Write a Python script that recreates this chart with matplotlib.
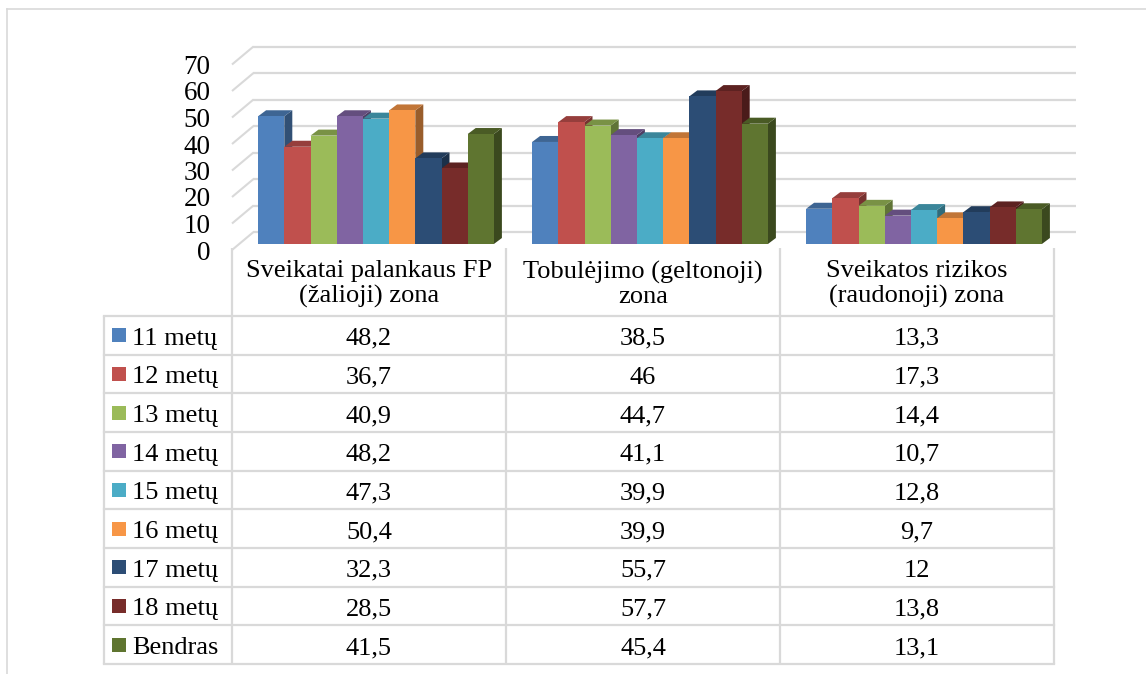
import matplotlib
matplotlib.use("Agg")
import matplotlib.pyplot as plt
from matplotlib.patches import Polygon, Rectangle
import matplotlib.colors as mcolors
import numpy as np

# ---- data -------------------------------------------------------------
zones = [
    "Sveikatai palankaus FP\n(žalioji) zona",
    "Tobulėjimo (geltonoji)\nzona",
    "Sveikatos rizikos\n(raudonoji) zona",
]
series = ["11 metų", "12 metų", "13 metų", "14 metų", "15 metų",
          "16 metų", "17 metų", "18 metų", "Bendras"]
age_11 = [48.2, 38.5, 13.3]
age_12 = [36.7, 46, 17.3]
age_13 = [40.9, 44.7, 14.4]
age_14 = [48.2, 41.1, 10.7]
age_15 = [47.3, 39.9, 12.8]
age_16 = [50.4, 39.9, 9.7]
age_17 = [32.3, 55.7, 12]
age_18 = [28.5, 57.7, 13.8]
overall = [41.5, 45.4, 13.1]
values = [age_11, age_12, age_13, age_14, age_15, age_16, age_17, age_18, overall]
colors = ["#4F81BD", "#C0504D", "#9BBB59", "#8064A2", "#4BACC6",
          "#F79646", "#2C4D75", "#772C2A", "#5F7530"]
y_ticks = [0, 10, 20, 30, 40, 50, 60, 70]

# ---- layout -----------------------------------------------------------
W, H = 1146, 674
FONT = "Liberation Serif"
FS = 19
GRID = "#d9d9d9"

fig = plt.figure(figsize=(W / 100, H / 100), dpi=100)


def px_rect(left, top, right, bottom):
    return [left / W, 1 - bottom / H, (right - left) / W, (bottom - top) / H]


def shade(c, f):
    r, g, b = mcolors.to_rgb(c)
    return (r * f, g * f, b * f)


# chart area: front plane of the pseudo-3D floor
ax_l, ax_r, ax_b = 232, 1054, 250
ymax = 70
px_per_y = 2.65
ax_t = ax_b - ymax * px_per_y
ax = fig.add_axes(px_rect(ax_l, ax_t, ax_r, ax_b))
ax.set_xlim(-0.5, len(zones) - 0.5)
ax.set_ylim(0, ymax)
ax.set_frame_on(False)
ax.set_xticks([])
ax.set_yticks(y_ticks)
ax.tick_params(axis="y", length=0, pad=15.5, labelsize=FS + 0.5)
for lab in ax.get_yticklabels():
    lab.set_fontfamily(FONT)

px_per_x = (ax_r - ax_l) / len(zones)
# depth of the floor, offset of the bar row, and bar thickness (data units)
DX, DY = 21.5 / px_per_x, 18 / px_per_y
FX, FY = 7 / px_per_x, 6 / px_per_y
BX, BY = 8 / px_per_x, 6 / px_per_y

# back wall gridlines with the short receding lines on the left
for v in y_ticks:
    ax.plot([-0.5, -0.5 + DX], [v, v + DY], color=GRID, lw=1.5,
            clip_on=False, zorder=0, solid_capstyle="butt")
    ax.plot([-0.5 + DX, len(zones) - 0.5 + DX], [v + DY, v + DY], color=GRID,
            lw=1.6, clip_on=False, zorder=0, solid_capstyle="butt")

# 3D-looking clustered bars
n = len(series)
bw = 26.2 / px_per_x
x_base = np.arange(len(zones))
for g in range(len(zones)):
    for s in range(n):
        h = values[s][g]
        x0 = x_base[g] - n * bw / 2 + s * bw + FX
        z = 2 + 3 * s
        side = Polygon([(x0 + bw, FY), (x0 + bw + BX, FY + BY),
                        (x0 + bw + BX, FY + h + BY), (x0 + bw, FY + h)],
                       closed=True, facecolor=shade(colors[s], 0.62),
                       edgecolor="none", clip_on=False, zorder=z)
        top = Polygon([(x0, FY + h), (x0 + bw, FY + h),
                       (x0 + bw + BX, FY + h + BY), (x0 + BX, FY + h + BY)],
                      closed=True, facecolor=shade(colors[s], 0.78),
                      edgecolor="none", clip_on=False, zorder=z + 1)
        ax.add_patch(side)
        ax.add_patch(top)
        ax.bar(x0, h, width=bw, bottom=FY, align="edge", color=colors[s],
               edgecolor="none", clip_on=False, zorder=z + 2)

# ---- data table and outer frame (drawn in pixel space) ----------------
ov = fig.add_axes([0, 0, 1, 1])
ov.set_xlim(0, W)
ov.set_ylim(H, 0)
ov.axis("off")
ov.patch.set_alpha(0)

# outer frame
ov.plot([7, 7], [9, H], color=GRID, lw=1.2)
ov.plot([7, W], [9, 9], color=GRID, lw=1.2)

lab_l = 104
col_edges = [ax_l + i * px_per_x for i in range(len(zones) + 1)]
head_t, head_b = 248, 316
row_h = (664 - head_b) / n
row_edges = [head_b + i * row_h for i in range(n + 1)]

for xe in col_edges:
    ov.plot([xe, xe], [head_t, row_edges[-1]], color=GRID, lw=1.6,
            solid_capstyle="butt")
ov.plot([lab_l, lab_l], [head_b, row_edges[-1]], color=GRID, lw=1.6,
        solid_capstyle="butt")
for ye in row_edges:
    ov.plot([lab_l, col_edges[-1]], [ye, ye], color=GRID, lw=1.6,
            solid_capstyle="projecting")

# column headers
for g, name in enumerate(zones):
    cx = (col_edges[g] + col_edges[g + 1]) / 2
    ov.text(cx, (head_t + head_b) / 2 + 2, name, ha="center", va="center",
            fontsize=FS, family=FONT, linespacing=1.12)


def fmt(v):
    if float(v).is_integer():
        return str(int(v))
    return f"{v:.1f}".replace(".", ",")


for s in range(n):
    cy = (row_edges[s] + row_edges[s + 1]) / 2
    ov.add_patch(Rectangle((112, cy - 7), 14, 14, facecolor=colors[s],
                           edgecolor="none"))
    ov.text(132, cy + 1, series[s], ha="left", va="center_baseline",
            fontsize=FS, family=FONT)
    for g in range(len(zones)):
        cx = (col_edges[g] + col_edges[g + 1]) / 2
        ov.text(cx, cy + 1, fmt(values[s][g]), ha="center",
                va="center_baseline", fontsize=FS, family=FONT)

fig.savefig("out.png", dpi=100)
